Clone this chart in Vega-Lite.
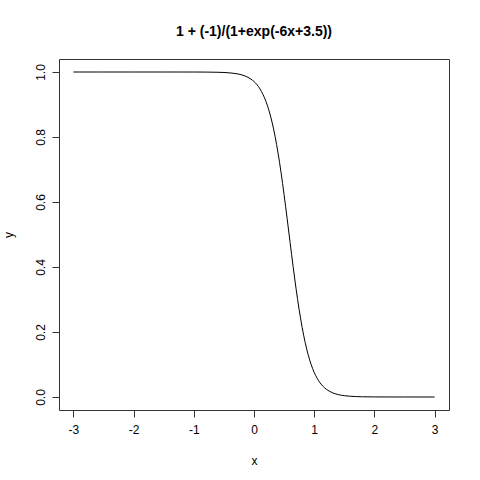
{
  "$schema": "https://vega.github.io/schema/vega-lite/v6.json",
  "width": 390,
  "height": 351,
  "autosize": {"type": "none"},
  "padding": {"left": 59, "top": 59, "right": 31, "bottom": 70},
  "background": "white",
  "title": {
    "text": "1 + (-1)/(1+exp(-6x+3.5))",
    "font": "Liberation Sans",
    "fontSize": 14,
    "fontWeight": "bold",
    "anchor": "middle",
    "offset": 20,
    "color": "black"
  },
  "config": {
    "view": {"stroke": "#333333", "strokeWidth": 1},
    "axis": {
      "domain": false,
      "grid": false,
      "tickColor": "#333333",
      "tickSize": 7,
      "labelFont": "Liberation Sans",
      "labelFontSize": 12,
      "labelColor": "black",
      "titleFont": "Liberation Sans",
      "titleFontSize": 12,
      "titleFontWeight": "normal",
      "titleColor": "black"
    }
  },
  "data": {
    "values": [
      {"x": -3, "y": 1.0},
      {"x": -2.5, "y": 0.99999},
      {"x": -2, "y": 0.99999},
      {"x": -1.5, "y": 0.999996},
      {"x": -1, "y": 0.999925},
      {"x": -0.8, "y": 0.99975},
      {"x": -0.6, "y": 0.99918},
      {"x": -0.5, "y": 0.9985},
      {"x": -0.4, "y": 0.99727},
      {"x": -0.3, "y": 0.99503},
      {"x": -0.2, "y": 0.99098},
      {"x": -0.15, "y": 0.98787},
      {"x": -0.1, "y": 0.9837},
      {"x": -0.05, "y": 0.97812},
      {"x": 0, "y": 0.97069},
      {"x": 0.05, "y": 0.96083},
      {"x": 0.1, "y": 0.94785},
      {"x": 0.15, "y": 0.93086},
      {"x": 0.2, "y": 0.90888},
      {"x": 0.25, "y": 0.8808},
      {"x": 0.3, "y": 0.84553},
      {"x": 0.35, "y": 0.80218},
      {"x": 0.4, "y": 0.75026},
      {"x": 0.45, "y": 0.68997},
      {"x": 0.5, "y": 0.62246},
      {"x": 0.55, "y": 0.54983},
      {"x": 0.6, "y": 0.47502},
      {"x": 0.65, "y": 0.40131},
      {"x": 0.7, "y": 0.33181},
      {"x": 0.75, "y": 0.26894},
      {"x": 0.8, "y": 0.21416},
      {"x": 0.85, "y": 0.16798},
      {"x": 0.9, "y": 0.13011},
      {"x": 0.95, "y": 0.09975},
      {"x": 1.0, "y": 0.07586},
      {"x": 1.05, "y": 0.05732},
      {"x": 1.1, "y": 0.04311},
      {"x": 1.15, "y": 0.0323},
      {"x": 1.2, "y": 0.02413},
      {"x": 1.3, "y": 0.01339},
      {"x": 1.4, "y": 0.00739},
      {"x": 1.5, "y": 0.00407},
      {"x": 1.6, "y": 0.00224},
      {"x": 1.8, "y": 0.000675},
      {"x": 2.0, "y": 0.000203},
      {"x": 2.5, "y": 0.00001},
      {"x": 3, "y": 0.0}
    ]
  },
  "mark": {"type": "line", "color": "black", "strokeWidth": 1, "interpolate": "monotone"},
  "encoding": {
    "x": {
      "field": "x",
      "type": "quantitative",
      "scale": {"domain": [-3.24, 3.24], "nice": false, "zero": false},
      "axis": {"values": [-3, -2, -1, 0, 1, 2, 3], "labelExpr": "toString(datum.value)", "labelPadding": 7, "title": "x", "titleY": 45}
    },
    "y": {
      "field": "y",
      "type": "quantitative",
      "scale": {"domain": [-0.04, 1.04], "nice": false, "zero": false},
      "axis": {"values": [0, 0.2, 0.4, 0.6, 0.8, 1.0], "format": ".1f", "labelAngle": -90, "labelAlign": "center", "labelBaseline": "bottom", "labelPadding": 5, "title": "y", "titleX": -44}
    }
  }
}
